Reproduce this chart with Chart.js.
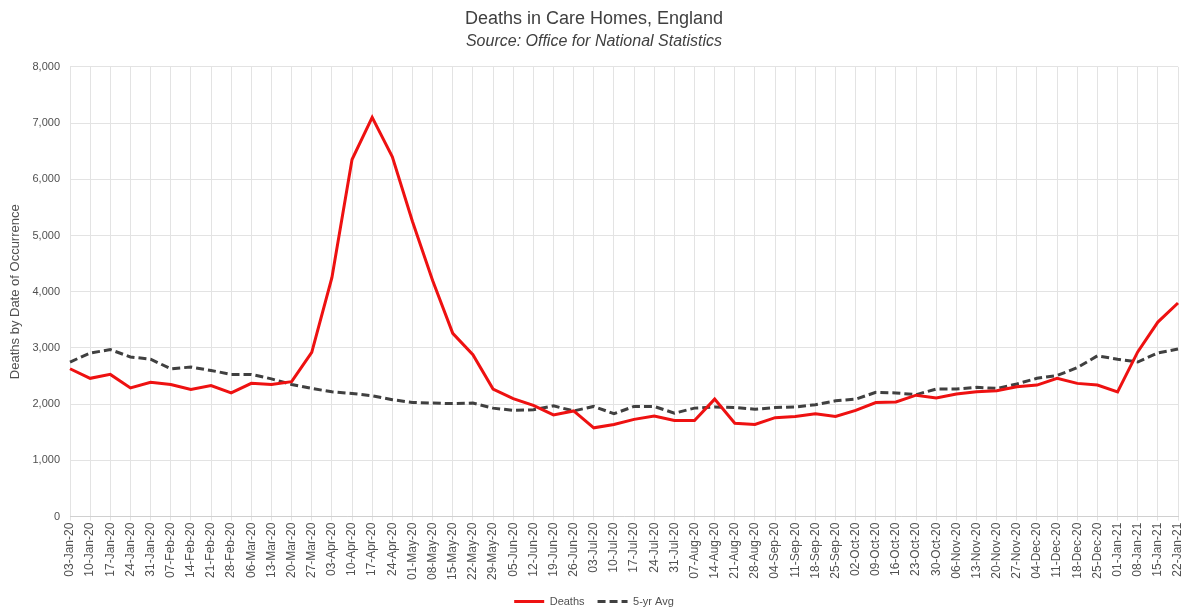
<!DOCTYPE html>
<html>
<head>
<meta charset="utf-8">
<script src="https://cdn.jsdelivr.net/npm/chart.js@4.4.1/dist/chart.umd.min.js"></script>
<style>
  html, body { margin: 0; padding: 0; background: #fff; }
  #wrap { width: 1188px; height: 616px; }
</style>
</head>
<body>
<div id="wrap"><canvas id="c" width="1188" height="616"></canvas></div>
<script>
const weeks = [
  "03-Jan-20", "10-Jan-20", "17-Jan-20", "24-Jan-20", "31-Jan-20", "07-Feb-20", "14-Feb-20", "21-Feb-20",
  "28-Feb-20", "06-Mar-20", "13-Mar-20", "20-Mar-20", "27-Mar-20", "03-Apr-20", "10-Apr-20", "17-Apr-20",
  "24-Apr-20", "01-May-20", "08-May-20", "15-May-20", "22-May-20", "29-May-20", "05-Jun-20", "12-Jun-20",
  "19-Jun-20", "26-Jun-20", "03-Jul-20", "10-Jul-20", "17-Jul-20", "24-Jul-20", "31-Jul-20", "07-Aug-20",
  "14-Aug-20", "21-Aug-20", "28-Aug-20", "04-Sep-20", "11-Sep-20", "18-Sep-20", "25-Sep-20", "02-Oct-20",
  "09-Oct-20", "16-Oct-20", "23-Oct-20", "30-Oct-20", "06-Nov-20", "13-Nov-20", "20-Nov-20", "27-Nov-20",
  "04-Dec-20", "11-Dec-20", "18-Dec-20", "25-Dec-20", "01-Jan-21", "08-Jan-21", "15-Jan-21", "22-Jan-21"
];

const deaths = [
  2630, 2460, 2530, 2290, 2390, 2350, 2260, 2330,
  2200, 2370, 2350, 2400, 2920, 4250, 6350, 7100,
  6400, 5250, 4200, 3260, 2880, 2270, 2100, 1980,
  1810, 1880, 1580, 1640, 1730, 1790, 1710, 1710,
  2090, 1660, 1640, 1760, 1780, 1830, 1780, 1890,
  2030, 2040, 2160, 2110, 2180, 2220, 2240, 2310,
  2340, 2460, 2370, 2340, 2220, 2930, 3460, 3800
];

const fiveYrAvg = [
  2750, 2910, 2970, 2840, 2800, 2630, 2660, 2600,
  2530, 2530, 2450, 2350, 2280, 2220, 2190, 2150,
  2080, 2030, 2020, 2010, 2020, 1930, 1890, 1900,
  1970, 1880, 1960, 1830, 1960, 1960, 1840, 1930,
  1950, 1940, 1910, 1940, 1950, 1990, 2060, 2090,
  2210, 2200, 2170, 2270, 2270, 2300, 2280, 2360,
  2460, 2510, 2650, 2860, 2800, 2750, 2910, 2980
];

const FONT = "'Liberation Sans', Arial, sans-serif";
const GREY = "#505050";

new Chart(document.getElementById("c"), {
  type: "line",
  data: {
    labels: weeks,
    datasets: [
      {
        label: "Deaths",
        data: deaths,
        borderColor: "#ee1111",
        backgroundColor: "#ee1111",
        borderWidth: 3,
        pointRadius: 0,
        tension: 0,
        fill: false
      },
      {
        label: "5-yr Avg",
        data: fiveYrAvg,
        borderColor: "#404040",
        backgroundColor: "#404040",
        borderWidth: 3,
        borderDash: [8, 4],
        pointRadius: 0,
        tension: 0,
        fill: false
      }
    ]
  },
  options: {
    responsive: false,
    devicePixelRatio: 1,
    animation: false,
    layout: { padding: { left: 0, right: 0, top: 4, bottom: -1 } },
    plugins: {
      title: {
        display: true,
        text: "Deaths in Care Homes, England",
        color: "#404040",
        font: { family: FONT, size: 18, weight: "normal" },
        padding: { top: 4, bottom: 2 }
      },
      subtitle: {
        display: true,
        text: "Source: Office for National Statistics",
        color: "#404040",
        font: { family: FONT, size: 16, style: "italic" },
        padding: { bottom: 16 }
      },
      legend: {
        position: "bottom",
        labels: {
          color: GREY,
          font: { family: FONT, size: 11 },
          usePointStyle: true,
          pointStyle: "line",
          pointStyleWidth: 30,
          boxWidth: 30,
          boxHeight: 6,
          padding: 13,
          generateLabels(chart) {
            return chart.data.datasets.map((ds, i) => ({
              text: ds.label,
              fillStyle: ds.borderColor,
              strokeStyle: ds.borderColor,
              lineWidth: 3,
              lineDash: ds.borderDash || [],
              pointStyle: "line",
              fontColor: GREY,
              datasetIndex: i
            }));
          }
        }
      },
      tooltip: { enabled: false }
    },
    scales: {
      x: {
        offset: false,
        afterFit(scale) {
          // keep the last date on the grid near the right edge, like the original
          scale.paddingRight = 10;
          scale.height += 1;
        },
        grid: { color: "#e3e3e3", lineWidth: 1, drawTicks: true, tickLength: 4 },
        border: { color: "#d0d0d0" },
        ticks: {
          color: GREY,
          font: { family: FONT, size: 12 },
          maxRotation: 90,
          minRotation: 90,
          autoSkip: false,
          padding: 2
        }
      },
      y: {
        min: 0,
        max: 8000,
        afterFit(scale) {
          scale.width = 70;
        },
        grid: { color: "#e3e3e3", lineWidth: 1, drawTicks: false },
        border: { display: false },
        title: {
          display: true,
          text: "Deaths by Date of Occurrence",
          color: GREY,
          font: { family: FONT, size: 13 },
          padding: { top: 8, bottom: 0 }
        },
        ticks: {
          stepSize: 1000,
          color: GREY,
          font: { family: FONT, size: 11 },
          padding: 10,
          callback: v => v.toLocaleString("en-GB")
        }
      }
    }
  }
});
</script>
</body>
</html>
